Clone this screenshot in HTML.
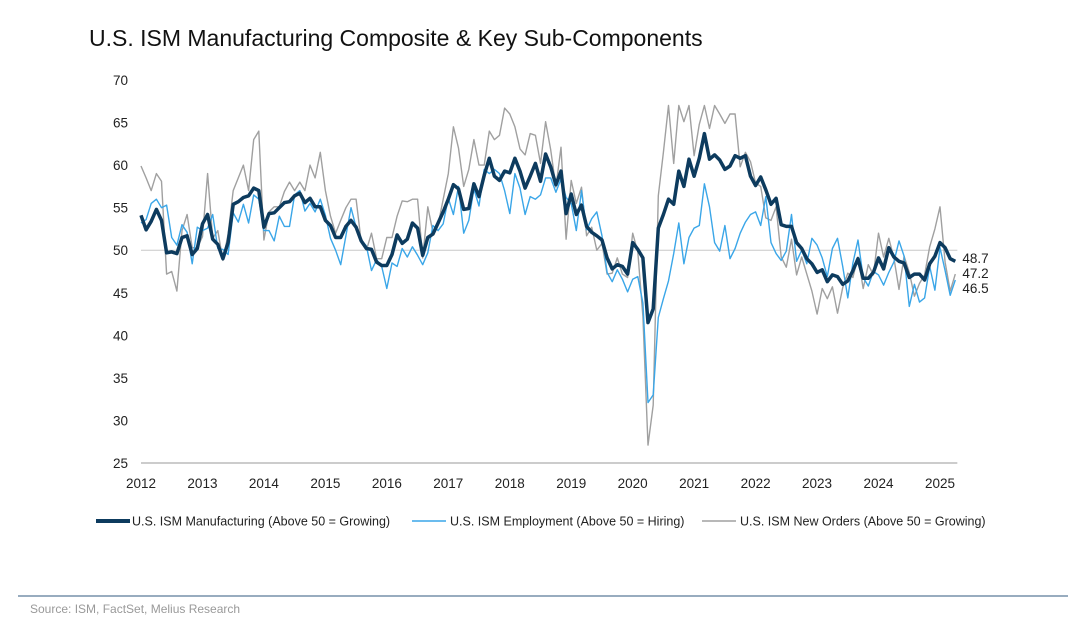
<!DOCTYPE html>
<html><head><meta charset="utf-8">
<style>
html,body{margin:0;padding:0;background:#fff;}
svg{display:block;font-family:"Liberation Sans",Arial,sans-serif;}
</style></head>
<body>
<svg id="chart" width="1068" height="618" viewBox="0 0 1068 618">
<text x="89" y="46" font-size="23" fill="#111">U.S. ISM Manufacturing Composite &amp; Key Sub-Components</text>
<g id="axes"></g>
<g id="series"></g>
<g id="legend" font-size="12.5" fill="#222">
<line x1="96" y1="521" x2="130" y2="521" stroke="#0d3b5e" stroke-width="4"/>
<text x="132" y="525.5">U.S. ISM Manufacturing (Above 50 = Growing)</text>
<line x1="412" y1="521" x2="446" y2="521" stroke="#3aa6e8" stroke-width="1.5"/>
<text x="450" y="525.5">U.S. ISM Employment (Above 50 = Hiring)</text>
<line x1="702" y1="521" x2="736" y2="521" stroke="#a0a0a0" stroke-width="1.5"/>
<text x="740" y="525.5">U.S. ISM New Orders (Above 50 = Growing)</text>
</g>
<line x1="18" y1="596" x2="1068" y2="596" stroke="#5a7a99" stroke-width="1.2"/>
<text x="30" y="613" font-size="12" fill="#999">Source: ISM, FactSet, Melius Research</text>
</svg>
<script>
const yearLabels = ["2012","2013","2014","2015","2016","2017","2018","2019","2020","2021","2022","2023","2024","2025"];
const yTicks = [25,30,35,40,45,50,55,60,65,70];
const manufacturing = [54.1,52.4,53.4,54.8,53.5,49.7,49.8,49.6,51.5,51.7,49.5,50.2,
53.1,54.2,51.3,50.7,49.0,50.9,55.4,55.7,56.2,56.4,57.3,57.0,
52.7,54.3,54.4,55.0,55.6,55.7,56.4,56.7,55.6,56.1,55.1,55.1,
53.5,52.9,51.5,51.5,52.8,53.5,52.7,51.1,50.2,50.1,48.6,48.2,
48.2,49.5,51.8,50.8,51.3,53.2,52.6,49.4,51.5,51.9,53.2,54.5,
56.0,57.7,57.2,54.8,54.9,57.8,56.3,58.8,60.8,58.7,58.2,59.3,
59.1,60.8,59.3,57.3,58.7,60.2,58.1,61.3,59.8,57.7,59.3,54.3,
56.6,54.2,55.3,52.8,52.1,51.7,51.2,49.1,47.8,48.3,48.1,47.2,
50.9,50.1,49.1,41.5,43.1,52.6,54.2,56.0,55.4,59.3,57.5,60.7,
58.7,60.8,63.7,60.7,61.2,60.6,59.5,59.9,61.1,60.8,61.1,58.7,
57.6,58.6,57.1,55.4,56.1,53.0,52.8,52.8,50.9,50.2,49.0,48.4,
47.4,47.7,46.3,47.1,46.9,46.0,46.4,47.6,49.0,46.7,46.7,47.4,
49.1,47.8,50.3,49.2,48.7,48.5,46.8,47.2,47.2,46.5,48.4,49.3,
50.9,50.3,49.0,48.7];
const employment = [53.2,53.6,55.5,56.0,55.0,55.3,51.5,50.6,53.0,52.1,48.4,52.7,
52.3,52.6,54.2,50.2,50.1,49.5,54.4,53.3,55.4,53.2,56.5,56.0,
52.3,52.3,51.1,54.0,52.8,52.8,56.5,57.0,54.6,55.5,54.5,56.0,
54.1,51.4,50.0,48.3,51.7,55.0,52.7,51.2,50.5,47.6,48.9,48.1,
45.5,48.5,48.1,50.2,49.2,50.4,49.4,48.3,49.7,52.9,52.3,53.1,
56.1,54.2,57.5,52.0,53.5,57.2,55.2,59.5,59.0,59.5,59.0,57.0,
54.3,59.0,57.3,54.2,56.3,56.0,56.5,58.5,58.5,56.8,58.4,56.2,
55.5,52.3,57.0,52.4,53.7,54.5,51.7,47.4,46.3,47.7,46.6,45.1,
46.6,46.9,43.8,32.1,33.0,42.1,44.3,46.4,49.6,53.2,48.4,51.5,
52.6,52.9,57.8,55.1,50.9,49.9,52.9,49.0,50.2,52.0,53.3,54.2,
54.5,52.9,56.3,50.9,49.6,48.8,49.9,54.2,48.7,50.0,48.4,51.4,
50.6,49.1,46.9,50.2,51.4,48.1,44.4,48.5,51.2,46.8,45.8,47.5,
47.1,45.9,47.4,48.6,51.1,49.3,43.4,46.0,43.9,44.4,48.1,45.3,
50.3,47.6,44.7,46.5];
const newOrders = [59.9,58.5,57.0,59.0,58.1,47.2,47.5,45.2,52.3,54.2,50.3,50.3,
51.6,59.0,51.4,52.3,48.8,51.9,57.0,58.5,60.0,57.0,63.0,64.0,
51.2,54.5,55.1,55.1,56.9,58.0,57.0,58.0,57.0,60.0,58.5,61.5,
57.0,54.0,52.0,53.5,55.0,56.0,56.0,51.0,50.0,52.0,49.0,49.0,
51.5,51.5,54.0,55.8,55.7,56.0,56.0,49.1,55.1,52.1,53.0,56.0,
59.0,64.5,62.0,57.5,59.5,63.0,60.0,60.0,64.0,63.0,63.5,66.7,
66.0,64.5,61.9,61.2,63.7,63.5,60.2,65.1,61.8,57.4,62.1,51.3,
58.2,55.5,57.4,51.7,52.7,50.0,50.8,47.2,47.3,49.1,47.2,46.8,
52.0,49.8,42.2,27.1,31.8,56.4,61.5,67.0,60.2,67.0,65.1,67.0,
61.1,64.8,67.0,64.3,67.0,66.0,64.9,66.0,66.0,59.8,61.5,60.4,
57.9,57.5,53.8,53.5,55.1,49.2,48.0,51.3,47.1,49.2,47.2,45.2,
42.5,45.5,44.3,45.7,42.6,45.6,47.3,46.8,49.2,45.5,48.3,47.1,
52.0,49.2,51.4,49.1,45.4,49.3,47.4,44.6,46.1,47.1,50.4,52.5,
55.1,48.6,45.2,47.2];

const NS="http://www.w3.org/2000/svg";
const X0=141, YEARW=61.46, Y70=80, Y25=463;
function xScale(i){return X0 + i/12*YEARW;}
function yScale(v){return Y25 - (v-25)/45*(Y25-Y70);}
function mk(tag,attrs,parent){const e=document.createElementNS(NS,tag);for(const k in attrs)e.setAttribute(k,attrs[k]);parent.appendChild(e);return e;}
const axes=document.getElementById('axes');
const lastX = xScale(manufacturing.length-1);
const bl=mk('line',{x1:X0,y1:Y25,x2:lastX+2,y2:Y25,stroke:'#999','stroke-width':1},axes);


const ref=mk('line',{x1:X0,y1:yScale(50),x2:lastX+2,y2:yScale(50),stroke:'#c8c8c8','stroke-width':1},axes);


yTicks.forEach(v=>{
  const t=mk('text',{x:128,y:yScale(v)+5,'font-size':13.5,fill:'#222','text-anchor':'end'},axes);
  t.textContent=v;
  
  
});
yearLabels.forEach((lab,k)=>{
  const t=mk('text',{x:xScale(k*12),y:488,'font-size':13.5,fill:'#222','text-anchor':'middle'},axes);
  t.textContent=lab;
  
  
});
const ser=document.getElementById('series');
function drawLine(arr,color,w,name){
  const d=arr.map((v,i)=>(i?'L':'M')+xScale(i).toFixed(1)+' '+yScale(v).toFixed(1)).join(' ');
  const p=mk('path',{d:d,fill:'none',stroke:color,'stroke-width':w,'stroke-linejoin':'round'},ser);
  
  
}
drawLine(newOrders,'#a0a0a0',1.4,'new-orders-line');
drawLine(employment,'#3aa6e8',1.4,'employment-line');
drawLine(manufacturing,'#0d3b5e',3.5,'manufacturing-line');
const ends=[[manufacturing,'end-label-manufacturing',258],[newOrders,'end-label-new-orders',273],[employment,'end-label-employment',288]];
ends.forEach(([arr,name,y])=>{
  const t=mk('text',{x:lastX+7,y:y+5,'font-size':13.5,fill:'#222'},ser);
  t.textContent=arr[arr.length-1].toFixed(1);
  
  
});
</script>
</body></html>
